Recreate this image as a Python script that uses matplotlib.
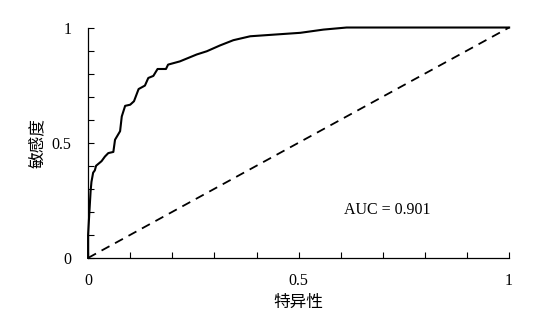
import numpy as np
import matplotlib
matplotlib.use("Agg")
import matplotlib.pyplot as plt

plt.rcParams["font.family"] = ["Liberation Serif", "Noto Sans CJK SC"]

# ROC curve points (1 - specificity, sensitivity)
fpr = [0.0, 0.0, 0.003, 0.006, 0.008, 0.012, 0.016, 0.019, 0.032, 0.040, 0.048,
       0.060, 0.064, 0.076, 0.080, 0.088, 0.100, 0.109, 0.120, 0.135, 0.143,
       0.155, 0.165, 0.185, 0.190, 0.218, 0.258, 0.282, 0.313, 0.345, 0.385,
       0.448, 0.504, 0.559, 0.614, 1.0]
tpr = [0.0, 0.10, 0.197, 0.29, 0.33, 0.37, 0.38, 0.40, 0.42, 0.44, 0.455,
       0.46, 0.513, 0.55, 0.614, 0.66, 0.665, 0.68, 0.733, 0.748, 0.781,
       0.79, 0.82, 0.82, 0.839, 0.853, 0.883, 0.897, 0.922, 0.945, 0.962,
       0.97, 0.977, 0.991, 1.0, 1.0]
auc_text = "AUC = 0.901"
tick_labels = {0.0: "0", 0.5: "0.5", 1.0: "1"}

fig = plt.figure(figsize=(5.54, 3.2), dpi=100)
ax = fig.add_axes([0.159, 0.194, 0.76, 0.72])

ax.plot(fpr, tpr, color="black", lw=1.5, clip_on=False)
ax.plot([0, 1], [0, 1], color="black", lw=1.3, linestyle=(0, (5, 3.5)), clip_on=False)

ax.set_xlim(0, 1)
ax.set_ylim(0, 1)
for side in ("top", "right"):
    ax.spines[side].set_visible(False)
for side in ("left", "bottom"):
    ax.spines[side].set_linewidth(0.9)

ticks = np.round(np.arange(0, 1.01, 0.1), 1)
labels = [tick_labels.get(t, "") for t in ticks]
ax.set_xticks(ticks)
ax.set_xticklabels(labels)
ax.set_yticks(ticks)
ax.set_yticklabels(labels)
ax.tick_params(direction="in", length=4, width=0.8, labelsize=11.5)
ax.tick_params(axis="x", pad=11)
ax.tick_params(axis="y", pad=12)

ax.set_xlabel("特异性", fontsize=12, labelpad=4)
ax.set_ylabel("敏感度", fontsize=12, labelpad=4)
ax.text(0.608, 0.209, auc_text, fontsize=11.5, va="center", ha="left")

fig.savefig("out.png", dpi=100)
